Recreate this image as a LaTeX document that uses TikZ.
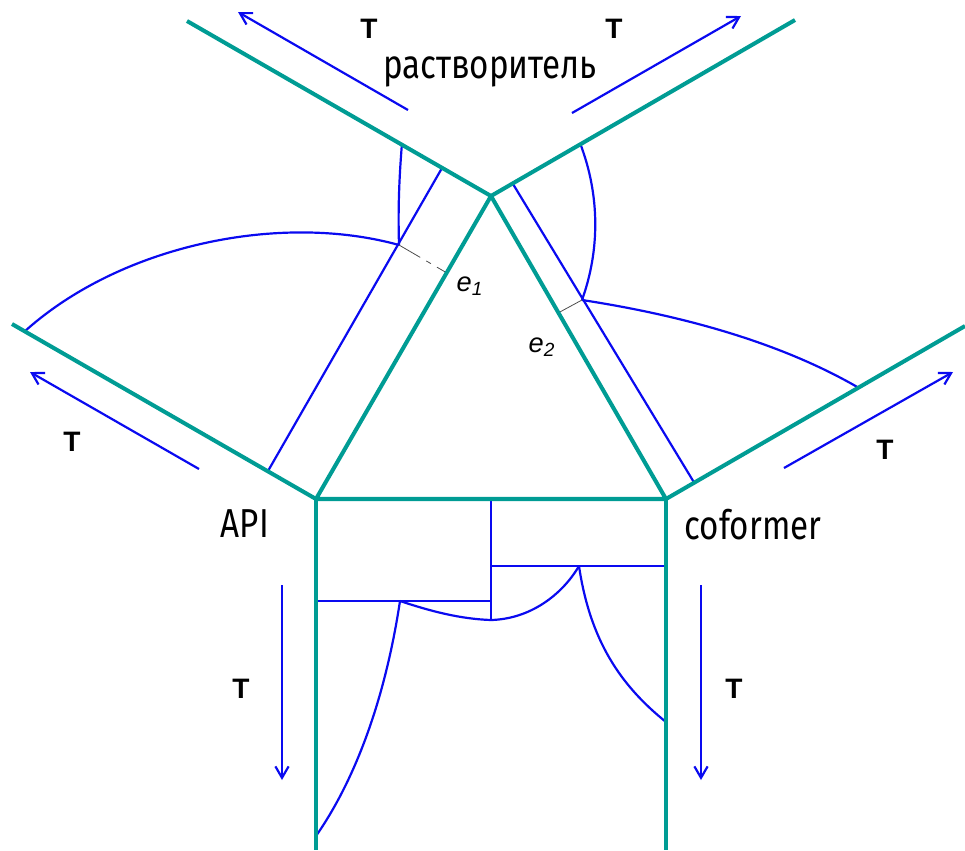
\documentclass[tikz,border=0pt]{standalone}
\usepackage{fontspec}
\setmainfont{Liberation Sans}
\newfontfamily\drawfont[FakeStretch=0.82]{Fira Sans}
\usepackage{xcolor}
\usetikzlibrary{arrows.meta}
\definecolor{wallteal}{HTML}{009C94}
\definecolor{lineblue}{HTML}{0A0AF0}

\begin{document}
\begin{tikzpicture}[
    x=0.02cm, y=-0.02cm,
    wall/.style={draw=wallteal, line width=2.3pt},
    phase/.style={draw=lineblue, line width=1.25pt},
    flow/.style={draw=lineblue, line width=1.25pt, -{Straight Barb[length=6.5pt,width=7.5pt]}},
    tie/.style={draw=gray!60!black, line width=0.45pt},
    tlabel/.style={font=\fontsize{16}{18}\selectfont\bfseries, inner sep=0pt},
    comp/.style={font=\fontsize{23}{26}\drawfont, inner sep=0pt},
    elabel/.style={font=\fontsize{15.5}{17}\selectfont\itshape, inner sep=0pt}
]
    \useasboundingbox (0,0) rectangle (965,850);

    % Triangle corners and wall ends
    \coordinate (api) at (316,499);
    \coordinate (cof) at (666,499);
    \coordinate (sol) at (491,196);
    \coordinate (w1) at (12,324);
    \coordinate (w2) at (187,21);
    \coordinate (w3) at (795,20);
    \coordinate (w4) at (965,326);
    \coordinate (w5) at (316,850);
    \coordinate (w6) at (666,850);

    % Phase boundary points
    \coordinate (p1) at (399,245);
    \coordinate (p2) at (582,300);
    \coordinate (p3) at (400,601);
    \coordinate (p4) at (579,566);
    \coordinate (p5) at (491,620);
    \coordinate (m1) at (316,601);
    \coordinate (m2) at (491,601);
    \coordinate (m3) at (491,499);
    \coordinate (m4) at (491,566);
    \coordinate (m5) at (666,566);
    \coordinate (s1) at (268,471);
    \coordinate (s2) at (442,168);
    \coordinate (s3) at (513,184);
    \coordinate (s4) at (695,484);
    \coordinate (c1) at (24,332);
    \coordinate (c2) at (402,143);
    \coordinate (c3) at (580,143);
    \coordinate (c4) at (859,388);
    \coordinate (c5) at (316,836);
    \coordinate (c6) at (666,722);
    \coordinate (e1a) at (447,273);
    \coordinate (e2a) at (558,313);

    % Straight phase lines
    \draw[phase] (s1) -- (s2);
    \draw[phase] (s3) -- (s4);
    \draw[phase] (m1) -- (m2);
    \draw[phase] (m3) -- (p5);
    \draw[phase] (m4) -- (m5);

    % Curved phase lines
    \draw[phase] (c1) .. controls (120,245) and (280,212) .. (p1);
    \draw[phase] (c2) .. controls (399,180) and (398,210) .. (p1);
    \draw[phase] (c3) .. controls (600,195) and (600,250) .. (p2);
    \draw[phase] (p2) .. controls (680,315) and (780,342) .. (c4);
    \draw[phase] (p3) .. controls (430,611) and (460,619) .. (p5);
    \draw[phase] (p5) .. controls (530,619) and (562,595) .. (p4);
    \draw[phase] (p3) .. controls (385,700) and (355,780) .. (c5);
    \draw[phase] (p4) .. controls (590,640) and (620,685) .. (c6);

    % Tie lines
    \draw[tie, dash pattern=on 14pt off 4pt on 3pt off 4pt] (p1) -- (e1a);
    \draw[tie] (p2) -- (e2a);

    % Teal walls
    \draw[wall, line join=round] (api) -- (cof) -- (sol) -- cycle;
    \draw[wall] (api) -- (w1);
    \draw[wall] (sol) -- (w2);
    \draw[wall] (sol) -- (w3);
    \draw[wall] (cof) -- (w4);
    \draw[wall] (api) -- (w5);
    \draw[wall] (cof) -- (w6);

    % Temperature arrows
    \foreach \i/\xa/\ya/\xb/\yb in {1/408/110/238/12, 2/572/113/741/16, 3/199/469/30/372,
                                    4/784/468/953/372, 5/282/585/282/780, 6/701/585/701/780} {
        \coordinate (fs\i) at (\xa,\ya);
        \coordinate (fe\i) at (\xb,\yb);
        \draw[flow] (fs\i) -- (fe\i);
    }

    % T labels
    \foreach \i/\x/\y in {1/369/29, 2/614/29, 3/72/442, 4/885/450, 5/241/689, 6/734/689} {
        \node[tlabel] (t\i) at (\x,\y) {T};
    }

    % Component names
    \node[comp] (solvent) at (490,72) {растворитель};
    \node[comp] (apiname) at (245,524) {API};
    \node[comp] (cofname) at (753,525) {coformer};

    % Tie line labels
    \node[elabel] (e1) at (470,286) {e\textsubscript{1}};
    \node[elabel] (e2) at (542,347) {e\textsubscript{2}};
\end{tikzpicture}
\end{document}
